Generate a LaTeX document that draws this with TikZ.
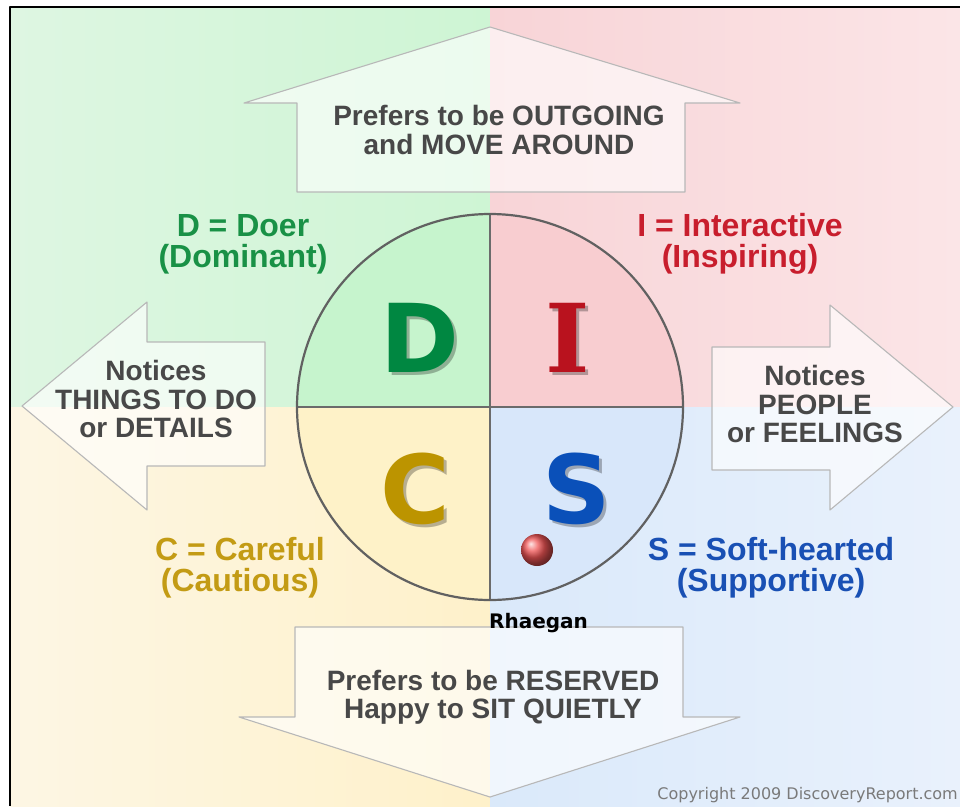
\documentclass[tikz,border=0pt]{standalone}
\usepackage{fontspec}
\setmainfont{Liberation Sans}
\newfontfamily\letterfont{DejaVu Sans}
\newfontfamily\slabfont{DejaVu Serif}
\newfontfamily\namefont{DejaVu Sans}

\definecolor{dpale}{RGB}{222,246,226}
\definecolor{dbg}{RGB}{206,245,212}
\definecolor{dinner}{RGB}{198,244,205}
\definecolor{ipale}{RGB}{251,229,231}
\definecolor{ibg}{RGB}{248,212,215}
\definecolor{iinner}{RGB}{248,205,208}
\definecolor{cpale}{RGB}{253,246,228}
\definecolor{cbg}{RGB}{254,241,202}
\definecolor{cinner}{RGB}{254,242,200}
\definecolor{spale}{RGB}{233,241,252}
\definecolor{sbg}{RGB}{218,233,250}
\definecolor{sinner}{RGB}{216,231,250}
\definecolor{dcol}{RGB}{0,135,65}
\definecolor{icol}{RGB}{185,18,30}
\definecolor{ccol}{RGB}{188,148,0}
\definecolor{scol}{RGB}{10,80,185}
\definecolor{dtext}{RGB}{25,145,70}
\definecolor{itext}{RGB}{200,30,45}
\definecolor{ctext}{RGB}{195,155,20}
\definecolor{stext}{RGB}{25,80,180}
\definecolor{saytext}{RGB}{72,72,72}
\definecolor{marker}{RGB}{240,85,85}

% letter with a soft drop shadow in one box
\newcommand{\shadowed}[2]{\makebox[0pt][l]{\hspace{3pt}\raisebox{-3pt}{\textcolor{#1}{#2}}}#2}

\begin{document}
\begin{tikzpicture}[x=1pt, y=-1pt, line cap=round, line join=round]
  % ---- Styles ----
  \tikzset{
    flow/.style={fill=white, fill opacity=0.62, draw=black!28, line width=1.1pt},
    divide/.style={draw=black!58, line width=2pt},
    say/.style={font=\bfseries\fontsize{28}{28.5}\selectfont, text=saytext, align=center, inner sep=0pt},
    trait/.style={font=\bfseries\fontsize{32}{31}\selectfont, align=center, inner sep=0pt},
    big/.style={font=\letterfont\bfseries\fontsize{95}{95}\selectfont, inner sep=0pt, anchor=base},
    bigslab/.style={font=\slabfont\bfseries\fontsize{95}{95}\selectfont, inner sep=0pt, anchor=base},
  }

  % ---- Geometry ----
  \def\cx{490} % centre of the wheel
  \def\cy{407}
  \def\R{193}  % wheel radius

  \useasboundingbox (0,0) rectangle (960,806);
  \fill[white] (0,0) rectangle (960,806);

  % Quadrant backgrounds
  \shade[left color=dpale, right color=dbg] (10,7) rectangle (\cx,\cy);
  \shade[left color=ibg, right color=ipale] (\cx,7) rectangle (960,\cy);
  \shade[left color=cpale, right color=cbg] (10,\cy) rectangle (\cx,806);
  \shade[left color=sbg, right color=spale] (\cx,\cy) rectangle (960,806);

  % Wheel
  \begin{scope}
    \clip (\cx,\cy) circle (\R pt);
    \fill[dinner] (\cx-\R,\cy-\R) rectangle (\cx,\cy);
    \fill[iinner] (\cx,\cy-\R) rectangle (\cx+\R,\cy);
    \fill[cinner] (\cx-\R,\cy) rectangle (\cx,\cy+\R);
    \fill[sinner] (\cx,\cy) rectangle (\cx+\R,\cy+\R);
  \end{scope}
  \draw[divide] (\cx,\cy-\R) -- (\cx,\cy+\R);
  \draw[divide] (\cx-\R,\cy) -- (\cx+\R,\cy);
  \draw[draw=black!62, line width=2.2pt] (\cx,\cy) circle (\R pt);

  % ---- Arrows ----
  \draw[flow] (490,27) -- (740,103) -- (685,103) -- (685,192) -- (297,192) -- (297,103) -- (244,103) -- cycle;
  \draw[flow] (490,797) -- (740,717) -- (683,717) -- (683,627) -- (295,627) -- (295,717) -- (239,717) -- cycle;
  \draw[flow] (22,406) -- (147,302) -- (147,342) -- (265,342) -- (265,466) -- (147,466) -- (147,510) -- cycle;
  \draw[flow] (953,407) -- (830,305) -- (830,347) -- (712,347) -- (712,470) -- (830,470) -- (830,510) -- cycle;

  \node[say] (outgoing) at (499,130) {Prefers to be OUTGOING\\and MOVE AROUND};
  \node[say] (reserved) at (493,697) {Prefers to be RESERVED\\Happy to SIT QUIETLY};
  \node[say] (things) at (156,399) {Notices\\THINGS TO DO\\or DETAILS};
  \node[say] (people) at (815,404) {Notices\\PEOPLE\\or FEELINGS};

  % ---- Letters ----
  \node[big, text=dcol] (D) at (420,372) {\shadowed{dinner!72!black}{D}};
  \node[bigslab, text=icol] (I) at (568,372) {\shadowed{iinner!72!black}{I}};
  \node[big, text=ccol] (C) at (415,523) {\shadowed{cinner!72!black}{C}};
  \node[big, text=scol] (S) at (577,523) {\shadowed{sinner!72!black}{S}};

  % ---- Style labels ----
  \node[trait, text=dtext] (doer) at (243,244) {D = Doer\\(Dominant)};
  \node[trait, text=itext] (inter) at (740,244) {I = Interactive\\(Inspiring)};
  \node[trait, text=ctext] (careful) at (240,568) {C = Careful\\(Cautious)};
  \node[trait, text=stext] (soft) at (771,568) {S = Soft-hearted\\(Supportive)};

  % Marker
  \shade[ball color=marker] (537,550) circle (16pt);
  \node[font=\namefont\bfseries\fontsize{20}{20}\selectfont, anchor=base west, inner sep=0pt] (rhaegan) at (489,628) {Rhaegan};

  \node[font=\namefont\fontsize{16}{16}\selectfont, text=black!52, anchor=base east, inner sep=0pt] (copyright) at (958,799) {Copyright 2009 DiscoveryReport.com};

  % Frame
  \draw[line width=2pt, line cap=butt] (10,806) -- (10,7) -- (960,7);
\end{tikzpicture}
\end{document}
